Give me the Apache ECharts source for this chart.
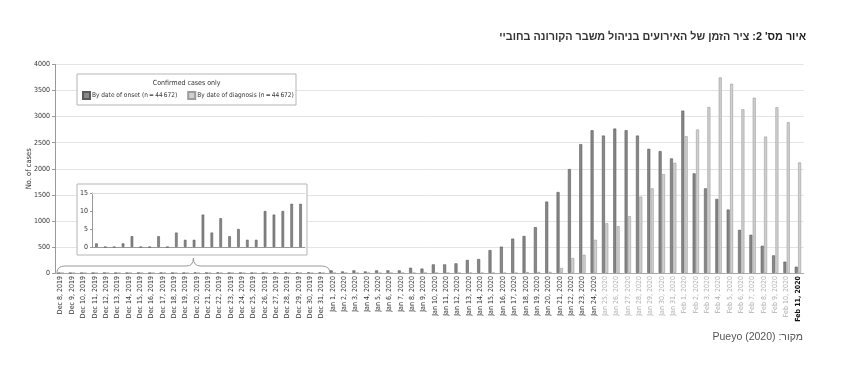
<!DOCTYPE html>
<html><head><meta charset="utf-8">
<script src="https://cdn.jsdelivr.net/npm/echarts@6/dist/echarts.min.js"></script>
<style>html,body{margin:0;padding:0;background:#fff}#c{width:847px;height:370px}</style>
</head><body><div id="c"></div>
<script>
const dates = [
 'Dec 8, 2019','Dec 9, 2019','Dec 10, 2019','Dec 11, 2019','Dec 12, 2019','Dec 13, 2019','Dec 14, 2019','Dec 15, 2019',
 'Dec 16, 2019','Dec 17, 2019','Dec 18, 2019','Dec 19, 2019','Dec 20, 2019','Dec 21, 2019','Dec 22, 2019','Dec 23, 2019',
 'Dec 24, 2019','Dec 25, 2019','Dec 26, 2019','Dec 27, 2019','Dec 28, 2019','Dec 29, 2019','Dec 30, 2019','Dec 31, 2019',
 'Jan 1, 2020','Jan 2, 2020','Jan 3, 2020','Jan 4, 2020','Jan 5, 2020','Jan 6, 2020','Jan 7, 2020','Jan 8, 2020',
 'Jan 9, 2020','Jan 10, 2020','Jan 11, 2020','Jan 12, 2020','Jan 13, 2020','Jan 14, 2020','Jan 15, 2020','Jan 16, 2020',
 'Jan 17, 2020','Jan 18, 2020','Jan 19, 2020','Jan 20, 2020','Jan 21, 2020','Jan 22, 2020','Jan 23, 2020','Jan 24, 2020',
 'Jan 25, 2020','Jan 26, 2020','Jan 27, 2020','Jan 28, 2020','Jan 29, 2020','Jan 30, 2020','Jan 31, 2020',
 'Feb 1, 2020','Feb 2, 2020','Feb 3, 2020','Feb 4, 2020','Feb 5, 2020','Feb 6, 2020','Feb 7, 2020','Feb 8, 2020',
 'Feb 9, 2020','Feb 10, 2020','Feb 11, 2020'
];
const onset = [
 1,0,0,1,3,0,0,3,0,4,2,2,9,4,8,3,5,2,2,10,9,10,12,12,
 50,30,50,30,50,50,50,100,85,165,165,185,250,268,440,505,660,710,880,
 1370,1554,1994,2472,2739,2637,2771,2739,2637,2382,2338,2198,
 3115,1911,1624,1420,1217,828,733,522,338,217,121
];
const diagnosis = [
 0,0,0,0,0,0,0,0,0,0,0,0,0,0,0,0,0,0,0,0,0,0,0,0,
 0,0,0,0,0,0,0,0,0,0,0,0,0,0,0,0,0,18,20,
 22,96,287,350,637,955,898,1089,1465,1624,1898,2115,
 2624,2752,3185,3752,3631,3140,3363,2618,3179,2892,2121
];
const insetCount = 24; // Dec 8 – Dec 31 shown in the inset
const onsetName = 'By date of onset (n\u2009=\u200944\u2009672)';
const diagName = 'By date of diagnosis (n\u2009=\u200944\u2009672)';
const titleMain = 'ציר הזמן של האירועים בניהול משבר הקורונה בחוביי';
const titleBold = "איור מס' 2:";
const sourceText = 'מקור: Pueyo (2020)';

const F = "'Liberation Sans Narrow','DejaVu Sans Condensed','Liberation Sans',sans-serif";
const FH = "'Liberation Sans','DejaVu Sans',sans-serif";
const darkStyle = {color:'#888888', borderColor:'#5a5a5a', borderWidth:0.6};
const lightStyle = {color:'#d0d0d0', borderColor:'#9c9c9c', borderWidth:0.6};

function baseGraphics() {
  return [
    {type:'rect', id:'legBox', z:1, shape:{x:77, y:74, width:219, height:31}, style:{fill:'#fff', stroke:'#b5b5b5', lineWidth:1}},
    {type:'text', id:'legTitle', z:5, x:186.7, y:83.3, style:{text:'Confirmed cases only', fill:'#333', fontFamily:F, fontSize:7, fontWeight:'normal', align:'center', verticalAlign:'middle'}},
    {type:'rect', id:'insetBox', z:1, shape:{x:77, y:184, width:230, height:71}, style:{fill:'#fff', stroke:'#b5b5b5', lineWidth:1}},
    {type:'text', id:'source', z:5, x:803, y:337, style:{text:'\u202B'+sourceText+'\u202C', fill:'#555', fontFamily:FH, fontSize:10.5, fontWeight:'normal', align:'right', verticalAlign:'middle'}}
  ];
}

const chart = echarts.init(document.getElementById('c'), null, {renderer:'canvas'});
chart.setOption({
  animation:false,
  backgroundColor:'#fff',
  textStyle:{fontFamily:F},
  title:[{
    text:'{r|\u202B'+titleMain+'\u202C} {b|\u202B'+titleBold+'\u202C}',
    right:41, top:32, padding:0,
    textStyle:{fontFamily:FH, fontSize:10.8, color:'#333',
      rich:{r:{fontFamily:FH,fontSize:10.8,color:'#333'}, b:{fontFamily:FH,fontSize:10.8,color:'#222',fontWeight:'bold'}}}
  }],
  legend:{
    data:[onsetName, diagName], left:82, top:91, icon:'rect', itemWidth:7, itemHeight:7, itemGap:10, padding:0,
    textStyle:{fontFamily:F, fontSize:6.5, color:'#333', padding:[0,0,0,-3]}
  },
  grid:[
    {left:55, right:43.4, top:64.5, bottom:97},
    {left:92, top:193, width:213, height:54}
  ],
  xAxis:[
    {type:'category', gridIndex:0, data:dates, boundaryGap:true,
     axisLine:{lineStyle:{color:'#aaa'}}, axisTick:{show:false},
     axisLabel:{interval:0, rotate:90, margin:3, fontFamily:F, fontSize:7, color:'#333',
       formatter:(v,i)=> i===dates.length-1 ? '{b|'+v+'}' : (i>=48 ? '{f|'+v+'}' : '{n|'+v+'}'),
       rich:{n:{fontFamily:F,fontSize:7,color:'#333'}, f:{fontFamily:F,fontSize:7,color:'#b0b0b0'}, b:{fontFamily:F,fontSize:7,color:'#111',fontWeight:'bold'}}}
    },
    {type:'category', gridIndex:1, data:dates.slice(0,insetCount), z:3,
     axisLine:{lineStyle:{color:'#999'}}, axisTick:{show:false}, axisLabel:{show:false}},
    {type:'category', gridIndex:1, position:'top', data:dates.slice(0,insetCount), z:3,
     axisLine:{lineStyle:{color:'#ddd'}}, axisTick:{show:false}, axisLabel:{show:false}}
  ],
  yAxis:[
    {type:'value', gridIndex:0, min:0, max:4000, interval:500,
     name:'No. of cases', nameLocation:'middle', nameGap:22, nameRotate:90, nameMoveOverlap:false,
     nameTextStyle:{fontFamily:F, fontSize:7.5, color:'#333'},
     axisLine:{show:true, lineStyle:{color:'#999'}}, axisTick:{show:true, length:3, lineStyle:{color:'#999'}},
     axisLabel:{fontFamily:F, fontSize:7, color:'#333', margin:5, formatter:v=>String(v)},
     splitLine:{lineStyle:{color:'#e4e4e4'}}},
    {type:'value', gridIndex:1, min:0, max:15, interval:5, z:3,
     axisLine:{show:true, lineStyle:{color:'#999'}}, axisTick:{show:true, length:2, lineStyle:{color:'#999'}},
     axisLabel:{fontFamily:F, fontSize:7, color:'#333', margin:4, formatter:v=>String(v)},
     splitLine:{show:false}}
  ],
  series:[
    {type:'bar', name:onsetName, xAxisIndex:0, yAxisIndex:0, data:onset, barWidth:3, barGap:'12%', itemStyle:darkStyle},
    {type:'bar', name:diagName, xAxisIndex:0, yAxisIndex:0, data:diagnosis, barWidth:3, barGap:'12%', itemStyle:lightStyle},
    {type:'bar', name:onsetName, xAxisIndex:1, yAxisIndex:1, data:onset.slice(0,insetCount), barWidth:2.6, itemStyle:darkStyle, z:5}
  ],
  graphic:baseGraphics()
});

// brace connecting the December range to the inset, positioned from the axis scale
const c0 = chart.convertToPixel({xAxisIndex:0}, dates[0]);
const c1 = chart.convertToPixel({xAxisIndex:0}, dates[insetCount-1]);
const band = chart.convertToPixel({xAxisIndex:0}, dates[1]) - c0;
const y0 = chart.convertToPixel({yAxisIndex:0}, 0);
const x0 = c0 - band*0.33, x1 = c1 + band*0.73, mid = (x0+x1)/2;
const yh = y0 - 7, yt = y0 - 15;
const bs = () => ({fill:'none', stroke:'#999', lineWidth:1});
const brace = [
  {type:'bezierCurve', id:'b1', z:4, shape:{x1:x0, y1:y0, x2:x0+8, y2:yh, cpx1:x0, cpy1:yh}, style:bs()},
  {type:'line', id:'b2', z:4, shape:{x1:x0+8, y1:yh, x2:mid-7, y2:yh}, style:bs()},
  {type:'bezierCurve', id:'b3', z:4, shape:{x1:mid-7, y1:yh, x2:mid, y2:yt, cpx1:mid, cpy1:yh}, style:bs()},
  {type:'bezierCurve', id:'b4', z:4, shape:{x1:mid, y1:yt, x2:mid+7, y2:yh, cpx1:mid, cpy1:yh}, style:bs()},
  {type:'line', id:'b5', z:4, shape:{x1:mid+7, y1:yh, x2:x1-8, y2:yh}, style:bs()},
  {type:'bezierCurve', id:'b6', z:4, shape:{x1:x1-8, y1:yh, x2:x1, y2:y0, cpx1:x1, cpy1:yh}, style:bs()}
];
chart.setOption({graphic: baseGraphics().concat(brace)}, {replaceMerge:['graphic']});
</script></body></html>
